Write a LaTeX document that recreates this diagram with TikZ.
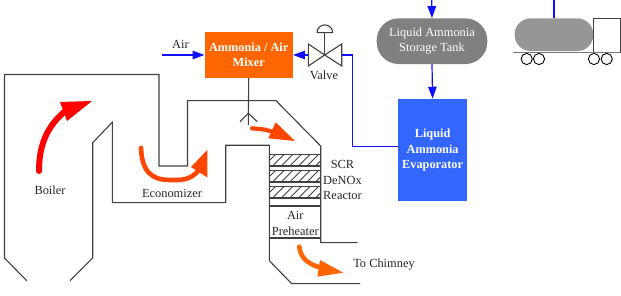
\documentclass[tikz,border=0pt]{standalone}
\usepackage{fontspec}
\setmainfont{Liberation Serif}
\usetikzlibrary{arrows.meta,patterns}
\definecolor{mixorange}{HTML}{FF6600}
\definecolor{flowred}{HTML}{FF0000}
\definecolor{floworange}{HTML}{FF4500}
\definecolor{pipeblue}{HTML}{1010FF}
\definecolor{evapblue}{HTML}{3366FF}
\definecolor{tankgrey}{HTML}{808080}
\definecolor{truckgrey}{HTML}{969696}
\definecolor{wall}{HTML}{404040}
\tikzset{
  x=1pt,y=-1pt,
  wallline/.style={draw=wall,line width=1.1pt,line join=miter},
  pipe/.style={draw=pipeblue,line width=1.2pt},
  pipearrow/.style={pipe,-{Triangle[length=12pt,width=8.5pt]}},
  label/.style={font=\fontsize{12.4}{15.4}\selectfont,align=center,text=black!85,inner sep=0pt},
  whitelabel/.style={font=\fontsize{12.4}{15.6}\selectfont,align=center,text=white,inner sep=0pt},
  boldlabel/.style={font=\fontsize{12.3}{15.4}\selectfont\bfseries,align=center,text=white,inner sep=0pt},
  flowshaft/.style={line cap=round,line join=round,fill=none},
}
\begin{document}
\begin{tikzpicture}
\useasboundingbox (0,0) rectangle (621,296);

% boiler and flue gas duct
\draw[wallline] (26.7,280.7) -- (4.5,258) -- (4.5,74.5) -- (159,74.5) -- (159,166) -- (187.5,166)
  -- (187.5,100.7) -- (276,100.7) -- (320.7,146) -- (320.7,242.7) -- (357.7,242.7);
\draw[wallline] (70,280.7) -- (92.7,258) -- (92.7,142.7) -- (112.3,122.3) -- (112.3,202.7)
  -- (225.7,202.7) -- (225.7,145.3) -- (269.3,145.3) -- (269.3,260.7) -- (291.7,283.7) -- (360,283.7);

% catalyst layers of the reactor
\foreach \ytop/\ybot in {154.7/166,170.7/182,186.7/198}{
  \begin{scope}
    \clip (269.3,\ytop) rectangle (320.7,\ybot);
    \foreach \k in {0,...,9}
      \draw[wall,line width=0.9pt] ({264+\k*8.6},\ybot) -- ({264+\k*8.6+11.3},\ytop);
  \end{scope}
  \draw[wallline] (269.3,\ytop) -- (320.7,\ytop) (269.3,\ybot) -- (320.7,\ybot);
}
\draw[wallline] (269.3,206) -- (320.7,206) (269.3,238) -- (320.7,238);

% process equipment
\node[fill=mixorange,minimum width=88pt,minimum height=45.4pt,inner sep=0pt,boldlabel] (mixer) at (248.7,55) {Ammonia / Air\\Mixer};
\node[fill=tankgrey,rounded corners=22pt,minimum width=110.6pt,minimum height=45.7pt,inner sep=0pt,whitelabel] (tank) at (432,41.2) {Liquid Ammonia\\Storage Tank};
\node[fill=evapblue,minimum width=68.7pt,minimum height=102.5pt,inner sep=0pt,boldlabel] (evap) at (432.6,150.2) {Liquid\\Ammonia\\Evaporator};

% ammonia injection lance
\coordinate (lance) at (248.3,125);
\coordinate (lancehead) at (248.3,113.3);
\coordinate (barbL) at (240,121.7);
\coordinate (barbR) at (257.3,121.7);
\draw[wallline] (mixer.south) -- (lance);
\draw[wallline] (barbL) -- (lancehead) -- (barbR);

% control valve
\coordinate (valve) at (324.7,55);
\coordinate (valveL) at (308.3,55);
\coordinate (valveR) at (341.7,55);
\coordinate (stemtop) at (324.7,32.7);
\draw[wallline,fill=white] (valve) -- (308.3,44) -- (308.3,66) -- cycle;
\draw[wallline,fill=white] (valve) -- (341.7,44) -- (341.7,66) -- cycle;
\draw[wallline] (valve) -- (stemtop);
\draw[wallline] (317,32.7) -- (332.7,32.7) arc[start angle=0,end angle=-180,radius=7.85];

% blue piping
\coordinate (airin) at (162,55);
\coordinate (tanktop) at (431.7,0);
\coordinate (trucktop) at (554,0);
\coordinate (truckport) at (554,18.3);
\draw[pipearrow] (airin) -- (mixer.west);
\draw[pipearrow] (valveL) -- (mixer.east);
\draw[pipe] (valveR) -- (352.3,55) -- (352.3,146.7) -- (evap.west |- 0,146.7);
\draw[pipearrow] (tanktop) -- (tank.north);
\draw[pipearrow] (tank.south) -- (evap.north);
\draw[pipe] (trucktop) -- (truckport);

% tanker truck
\node[fill=truckgrey,rounded corners=16pt,minimum width=78.6pt,minimum height=32.7pt,inner sep=0pt] (trucktank) at (554,34.7) {};
\node[draw=wall,line width=1.1pt,minimum width=26.7pt,minimum height=34.4pt,inner sep=0pt] (cab) at (606.7,35.5) {};
\draw[truckgrey!80!black,line width=1.4pt] (513.3,52.7) -- (620,52.7);
\foreach \wx in {526.7,539,594,606.7}
  \draw[black,line width=0.9pt,fill=white] (\wx,59) circle[radius=5.6];

% gas flow arrows, each a curved shaft with a filled head
\draw[flowshaft,flowred,line width=6pt] (39,171) .. controls (39,145) and (47,127) .. (64,112);
\fill[flowred] (92,101) -- (60,102) -- (67,121) -- cycle;
\draw[flowshaft,floworange,line width=4.6pt] (141,148) .. controls (142,172) and (152,180) .. (170,180)
  .. controls (180,180) and (190,181) .. (199,170);
\fill[floworange] (207.3,150) -- (207.3,177.5) -- (191,167) -- cycle;
\draw[flowshaft,floworange,line width=4.2pt] (252,128.3) -- (264,129.5) -- (276,132.5);
\fill[floworange] (295,141) -- (275.7,122.3) -- (268.3,138.3) -- cycle;
\draw[flowshaft,mixorange,line width=4.6pt] (299.3,246.7) .. controls (300,256) and (306,264) .. (322,268);
\fill[mixorange] (343.3,272.7) -- (320,260) -- (317.3,276.7) -- cycle;

% labels
\node[label] (lbair) at (180.5,44) {Air};
\node[label] (lbvalve) at (324,75.5) {Valve};
\node[label] (lbboiler) at (50,190) {Boiler};
\node[label] (lbecon) at (172,193) {Economizer};
\node[label] (lbscr) at (342.5,180) {SCR\\DeNOx\\Reactor};
\node[label] (lbpre) at (295.3,223.3) {Air\\Preheater};
\node[label] (lbchim) at (384,264.5) {To Chimney};
\end{tikzpicture}
\end{document}
